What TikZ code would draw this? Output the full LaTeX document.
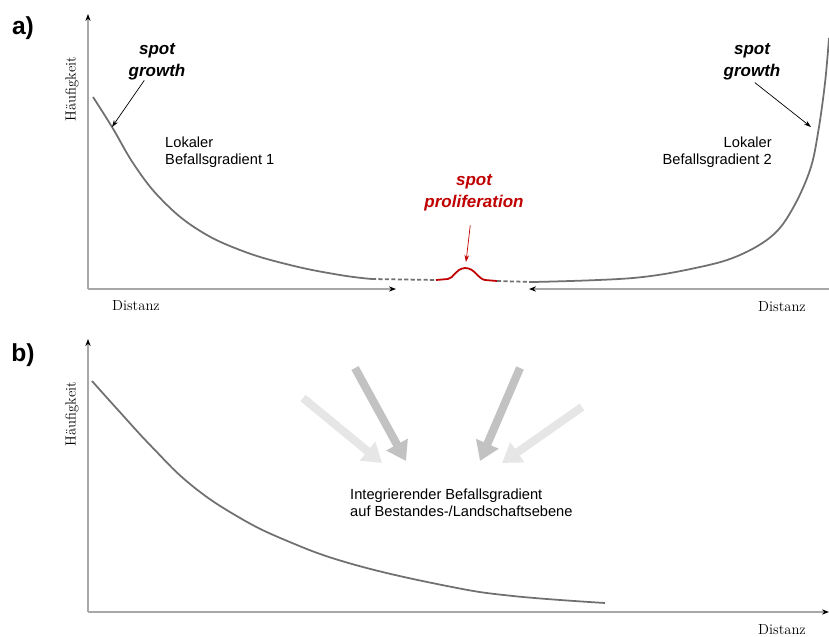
\documentclass[tikz,border=0pt]{standalone}
\usepackage{fontspec}
\setsansfont{Liberation Sans}
\usetikzlibrary{arrows.meta}
\definecolor{curvegray}{HTML}{707070}
\definecolor{axisgray}{HTML}{A8A8A8}
\definecolor{spotred}{HTML}{C00000}
\definecolor{shade_dark}{HTML}{C2C2C2}
\definecolor{shade_light}{HTML}{E6E6E6}
\tikzstyle{axis_line} = [axisgray, line width=1.3pt, -{Stealth[black,length=6pt,width=4.5pt]}]
\tikzstyle{curve_line} = [curvegray, line width=1.5pt]
\tikzstyle{curve_dash} = [curvegray, line width=1.5pt, dash pattern=on 3.5pt off 2pt]
\tikzstyle{label_axis} = [font=\fontsize{12.5}{14}\selectfont, inner sep=0pt]
\tikzstyle{label_spot} = [font=\fontsize{14.5}{18.5}\selectfont\sffamily\bfseries\itshape, align=center, inner sep=0pt]
\tikzstyle{label_text} = [font=\fontsize{12.5}{14.5}\selectfont\sffamily, inner sep=0pt]
\tikzstyle{panel_tag} = [font=\fontsize{21}{24}\selectfont\sffamily\bfseries, inner sep=0pt]
\tikzstyle{edge_hint} = [line width=0.6pt, -{Stealth[length=6pt,width=4pt]}]
\tikzstyle{arrow_big} = [line width=7pt, -{Triangle[length=16pt,width=20pt]}]

\begin{document}
\begin{tikzpicture}[x=0.03cm, y=-0.03cm]
			\useasboundingbox (0,0) rectangle (829,637);
			% a)
			\node (tagA) at (23,28) [panel_tag] {a)};
			\coordinate (oA) at (88,289);
			\coordinate (yA) at (88,14);
			\coordinate (xAl) at (396,289);
			\coordinate (eA) at (829,289);
			\coordinate (xAr) at (529,289);
			\draw[axis_line] (oA) -- (yA);
			\draw[axis_line] (oA) -- (xAl);
			\draw[axis_line] (eA) -- (xAr);
			\node (hA) at (72,89) [label_axis, rotate=90] {Häufigkeit};
			\node (dAl) at (136,306) [label_axis] {Distanz};
			\node (dAr) at (782,307) [label_axis] {Distanz};
			\draw[curve_line] plot[smooth, tension=0.7] coordinates {(93,97) (112,127) (135,166) (162,200) (197,229) (240,250) (290,265) (340,275) (372,279)};
			\draw[curve_dash] (372,279) -- (436,280);
			\draw[spotred, line width=1.5pt] (436,280) -- (448,279) .. controls (454,278) and (455,269) .. (465,268) .. controls (475,268) and (478,279) .. (485,280) -- (497,281);
			\draw[curve_dash] (497,281) -- (533,282);
			\draw[curve_line] plot[smooth, tension=0.6] coordinates {(533,282) (633,278) (700,267) (740,255) (773,235) (793,208) (810,170) (818,133) (825,83) (829,38)};
			\node (growA) at (157,62) [label_spot] {spot\\growth};
			\node (growB) at (752,62) [label_spot] {spot\\growth};
			\node (prolif) at (474,193) [label_spot, spotred] {spot\\proliferation};
			\node (lokA) at (165,152) [label_text, anchor=west, align=left] {Lokaler\\Befallsgradient 1};
			\node (lokB) at (772,152) [label_text, anchor=east, align=right] {Lokaler\\Befallsgradient 2};
			\coordinate (hitA) at (112,127);
			\coordinate (hitB) at (811,127);
			\coordinate (bump) at (466,262);
			\draw[edge_hint] (growA) -- (hitA);
			\draw[edge_hint, shorten <=3pt] (growB.south) -- (hitB);
			\draw[edge_hint, spotred, shorten <=12pt] (prolif) -- (bump);
			% b)
			\node (tagB) at (23,355) [panel_tag] {b)};
			\coordinate (oB) at (88,612);
			\coordinate (yB) at (88,339);
			\coordinate (xB) at (829,612);
			\draw[axis_line] (oB) -- (yB);
			\draw[axis_line] (oB) -- (xB);
			\node (hB) at (72,414) [label_axis, rotate=90] {Häufigkeit};
			\node (dB) at (782,630) [label_axis] {Distanz};
			\draw[curve_line] plot[smooth, tension=0.7] coordinates {(92,381) (118,410) (152,447) (190,484) (235,515) (285,540) (352,564) (447,586) (513,596) (605,603)};
			\node (integ) at (350,503) [label_text, anchor=west, align=left] {Integrierender Befallsgradient\\auf Bestandes-/Landschaftsebene};
			\coordinate (s1) at (303,398);
			\coordinate (t1) at (382,463);
			\coordinate (s2) at (355,368);
			\coordinate (t2) at (406,461);
			\coordinate (s3) at (520,368);
			\coordinate (t3) at (480,461);
			\coordinate (s4) at (582,407);
			\coordinate (t4) at (502,463);
			\draw[arrow_big, shade_light] (s1) -- (t1);
			\draw[arrow_big, shade_light] (s4) -- (t4);
			\draw[arrow_big, shade_dark] (s2) -- (t2);
			\draw[arrow_big, shade_dark] (s3) -- (t3);
		\end{tikzpicture}
\end{document}
